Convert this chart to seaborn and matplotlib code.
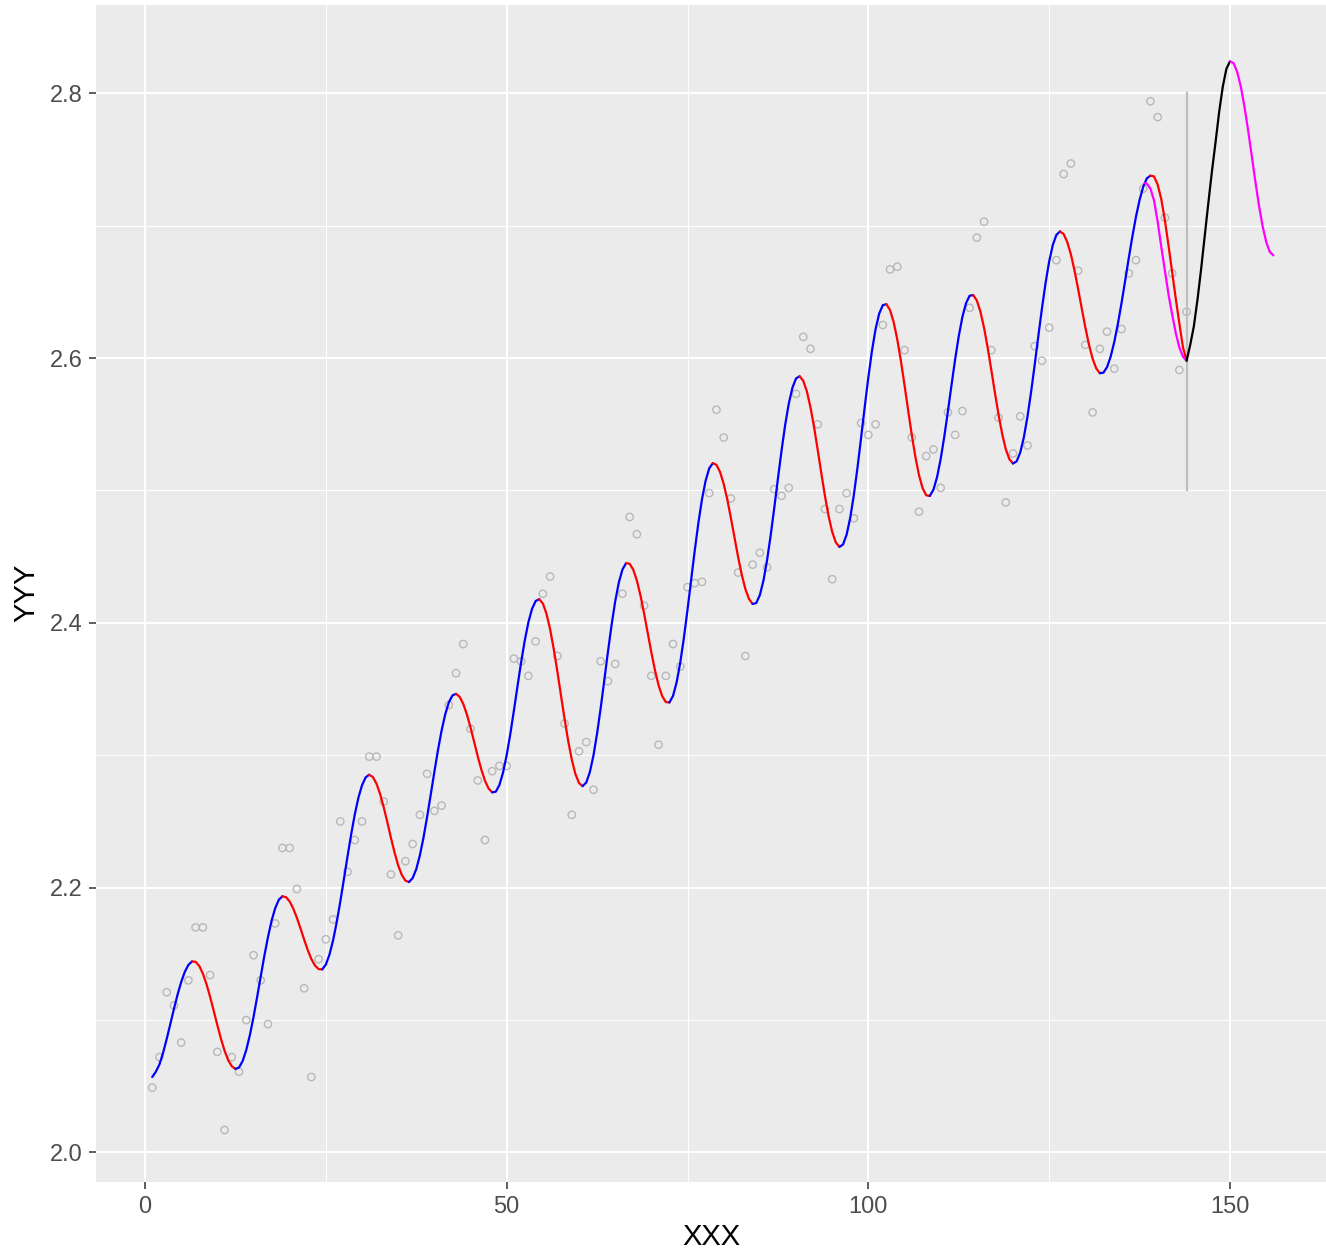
import matplotlib
matplotlib.use("Agg")
import numpy as np
import pandas as pd
import seaborn as sns
import matplotlib.pyplot as plt
from matplotlib.ticker import FixedLocator

# ---------------- data ----------------
# observed series (log10 scale), months 1..144
obs_x = list(range(1, 145))
obs_y = [
    2.049, 2.072, 2.121, 2.111, 2.083, 2.130, 2.170, 2.170, 2.134, 2.076, 2.017, 2.072,
    2.061, 2.100, 2.149, 2.130, 2.097, 2.173, 2.230, 2.230, 2.199, 2.124, 2.057, 2.146,
    2.161, 2.176, 2.250, 2.212, 2.236, 2.250, 2.299, 2.299, 2.265, 2.210, 2.164, 2.220,
    2.233, 2.255, 2.286, 2.258, 2.262, 2.338, 2.362, 2.384, 2.320, 2.281, 2.236, 2.288,
    2.292, 2.292, 2.373, 2.371, 2.360, 2.386, 2.422, 2.435, 2.375, 2.324, 2.255, 2.303,
    2.310, 2.274, 2.371, 2.356, 2.369, 2.422, 2.480, 2.467, 2.413, 2.360, 2.308, 2.360,
    2.384, 2.367, 2.427, 2.430, 2.431, 2.498, 2.561, 2.540, 2.494, 2.438, 2.375, 2.444,
    2.453, 2.442, 2.501, 2.496, 2.502, 2.573, 2.616, 2.607, 2.550, 2.486, 2.433, 2.486,
    2.498, 2.479, 2.551, 2.542, 2.550, 2.625, 2.667, 2.669, 2.606, 2.540, 2.484, 2.526,
    2.531, 2.502, 2.559, 2.542, 2.560, 2.638, 2.691, 2.703, 2.606, 2.555, 2.491, 2.528,
    2.556, 2.534, 2.609, 2.598, 2.623, 2.674, 2.739, 2.747, 2.666, 2.610, 2.559, 2.607,
    2.620, 2.592, 2.622, 2.664, 2.674, 2.728, 2.794, 2.782, 2.706, 2.664, 2.591, 2.635,
]

# fitted curve, read every half month from 1 to 144
fit_x = [1 + 0.5 * i for i in range(287)]
fit_y = [
    2.0570, 2.0610, 2.0665, 2.0753, 2.0857, 2.0970, 2.1084, 2.1192, 2.1287, 2.1364, 2.1417, 2.1443,
    2.1440, 2.1409, 2.1351, 2.1272, 2.1176, 2.1070, 2.0962, 2.0859, 2.0769, 2.0697, 2.0651, 2.0631,
    2.0642, 2.0691, 2.0774, 2.0887, 2.1022, 2.1173, 2.1330, 2.1485, 2.1627, 2.1750, 2.1845, 2.1909,
    2.1935, 2.1928, 2.1896, 2.1842, 2.1772, 2.1692, 2.1608, 2.1529, 2.1461, 2.1412, 2.1385, 2.1383,
    2.1419, 2.1494, 2.1602, 2.1738, 2.1895, 2.2065, 2.2237, 2.2402, 2.2553, 2.2679, 2.2773, 2.2833,
    2.2853, 2.2836, 2.2786, 2.2708, 2.2608, 2.2495, 2.2377, 2.2266, 2.2169, 2.2096, 2.2053, 2.2043,
    2.2072, 2.2140, 2.2244, 2.2378, 2.2534, 2.2702, 2.2873, 2.3038, 2.3186, 2.3308, 2.3399, 2.3452,
    2.3464, 2.3442, 2.3388, 2.3309, 2.3211, 2.3102, 2.2992, 2.2892, 2.2808, 2.2749, 2.2720, 2.2725,
    2.2776, 2.2870, 2.3001, 2.3160, 2.3338, 2.3523, 2.3703, 2.3867, 2.4004, 2.4105, 2.4165, 2.4179,
    2.4147, 2.4070, 2.3953, 2.3805, 2.3636, 2.3455, 2.3276, 2.3110, 2.2968, 2.2859, 2.2790, 2.2767,
    2.2794, 2.2873, 2.2999, 2.3165, 2.3358, 2.3568, 2.3781, 2.3983, 2.4161, 2.4304, 2.4402, 2.4451,
    2.4447, 2.4402, 2.4320, 2.4207, 2.4071, 2.3924, 2.3778, 2.3643, 2.3529, 2.3447, 2.3402, 2.3399,
    2.3449, 2.3552, 2.3701, 2.3887, 2.4099, 2.4323, 2.4546, 2.4754, 2.4933, 2.5073, 2.5167, 2.5206,
    2.5194, 2.5140, 2.5051, 2.4932, 2.4792, 2.4644, 2.4497, 2.4364, 2.4256, 2.4181, 2.4143, 2.4150,
    2.4210, 2.4320, 2.4474, 2.4662, 2.4871, 2.5089, 2.5301, 2.5495, 2.5656, 2.5775, 2.5846, 2.5863,
    2.5829, 2.5749, 2.5629, 2.5478, 2.5307, 2.5130, 2.4959, 2.4808, 2.4688, 2.4608, 2.4574, 2.4592,
    2.4667, 2.4795, 2.4967, 2.5173, 2.5399, 2.5631, 2.5854, 2.6055, 2.6219, 2.6336, 2.6400, 2.6407,
    2.6363, 2.6272, 2.6141, 2.5979, 2.5797, 2.5607, 2.5422, 2.5255, 2.5117, 2.5018, 2.4964, 2.4959,
    2.5006, 2.5101, 2.5238, 2.5407, 2.5598, 2.5797, 2.5991, 2.6166, 2.6310, 2.6414, 2.6471, 2.6476,
    2.6435, 2.6350, 2.6228, 2.6078, 2.5910, 2.5738, 2.5573, 2.5428, 2.5312, 2.5236, 2.5204, 2.5220,
    2.5287, 2.5402, 2.5558, 2.5744, 2.5951, 2.6166, 2.6375, 2.6567, 2.6730, 2.6854, 2.6931, 2.6957,
    2.6937, 2.6877, 2.6784, 2.6662, 2.6523, 2.6376, 2.6232, 2.6102, 2.5996, 2.5923, 2.5886, 2.5890,
    2.5932, 2.6011, 2.6122, 2.6259, 2.6415, 2.6583, 2.6754, 2.6918, 2.7068, 2.7195, 2.7294, 2.7358,
    2.7378, 2.7372, 2.7310, 2.7200, 2.7040, 2.6850, 2.6650, 2.6450, 2.6260, 2.6080, 2.5980,
]

# second model's in-sample curve over the last months
alt_x = [138.25, 138.5, 139, 139.5, 140, 140.5, 141, 141.5, 142, 142.5, 143, 143.5, 144]
alt_y = [2.7322, 2.7318, 2.7280, 2.7190, 2.7030, 2.6840, 2.6660, 2.6480, 2.6330, 2.6190,
         2.6080, 2.6010, 2.5980]

# forecast curve
fc_x = [144 + 0.5 * i for i in range(25)]
fc_y = [2.5980, 2.6100, 2.6240, 2.6440, 2.6670, 2.6920, 2.7170, 2.7410, 2.7630, 2.7860,
        2.8050, 2.8185, 2.8242, 2.8227, 2.8161, 2.8049, 2.7899, 2.7722, 2.7530, 2.7336,
        2.7154, 2.6998, 2.6878, 2.6802, 2.6776]

vline_x = 144
vline_y = [2.5, 2.8]

x_major = [0, 50, 100, 150]
x_minor = [25, 75, 125]
y_major = [2.0, 2.2, 2.4, 2.6, 2.8]
y_minor = [2.1, 2.3, 2.5, 2.7]
x_label = "XXX"
y_label = "YYY"

# ---------------- figure ----------------
W, H = 1326, 1253
fig = plt.figure(figsize=(W / 100, H / 100), dpi=100)
ax = fig.add_axes([96 / W, (H - 1182) / H, (W - 96) / W, (1182 - 5) / H])
ax.set_facecolor("#EBEBEB")
for s in ax.spines.values():
    s.set_visible(False)

ax.set_xlim(-6.774, 163.27)
ax.set_ylim(1.9777, 2.8667)

ax.xaxis.set_major_locator(FixedLocator(x_major))
ax.xaxis.set_minor_locator(FixedLocator(x_minor))
ax.yaxis.set_major_locator(FixedLocator(y_major))
ax.yaxis.set_minor_locator(FixedLocator(y_minor))
ax.grid(which="major", color="white", linewidth=1.5, zorder=0)
ax.grid(which="minor", color="white", linewidth=0.75, zorder=0)
ax.set_axisbelow(True)
ax.tick_params(which="major", length=5.3, width=1.1, color="#333333",
               labelsize=17, labelcolor="#4D4D4D", pad=4.6)
ax.tick_params(which="minor", length=0)
ax.set_xticklabels([str(v) for v in x_major], fontfamily="Liberation Sans")
ax.set_yticklabels([f"{v:.1f}" for v in y_major], fontfamily="Liberation Sans")

# observed points
obs_df = pd.DataFrame({"x": obs_x, "y": obs_y})
sns.scatterplot(data=obs_df, x="x", y="y", ax=ax, s=28, facecolor="none",
                edgecolor="#B8B8B8", linewidth=1.0, zorder=2)


def draw_runs(xs, ys, up_color, down_color, lw=1.6):
    xs = np.asarray(xs, float)
    ys = np.asarray(ys, float)
    sign = np.sign(np.diff(ys))
    start = 0
    for i in range(1, len(sign) + 1):
        if i == len(sign) or sign[i] != sign[start]:
            col = up_color if sign[start] > 0 else down_color
            seg = pd.DataFrame({"x": xs[start:i + 1], "y": ys[start:i + 1]})
            sns.lineplot(data=seg, x="x", y="y", ax=ax, color=col, linewidth=lw,
                         sort=False, estimator=None, solid_capstyle="round",
                         solid_joinstyle="round", zorder=3)
            start = i


# grey vertical marker
vdf = pd.DataFrame({"x": [vline_x, vline_x], "y": vline_y})
sns.lineplot(data=vdf, x="x", y="y", ax=ax, color="#BEBEBE", linewidth=1.6,
             sort=False, estimator=None, zorder=2.5)

draw_runs(fit_x, fit_y, "#0000FF", "#FF0000")
draw_runs(alt_x, alt_y, "#000000", "#FF00FF")
draw_runs(fc_x, fc_y, "#000000", "#FF00FF")

ax.set_xlabel("")
ax.set_ylabel("")
fig.text(711 / W, 1 - 1237 / H, x_label, ha="center", va="center",
         fontsize=21, fontfamily="Liberation Sans", color="black")
fig.text(26 / W, 1 - 593 / H, y_label, ha="center", va="center", rotation=90,
         fontsize=21, fontfamily="Liberation Sans", color="black")

fig.savefig("out.png", dpi=100)
